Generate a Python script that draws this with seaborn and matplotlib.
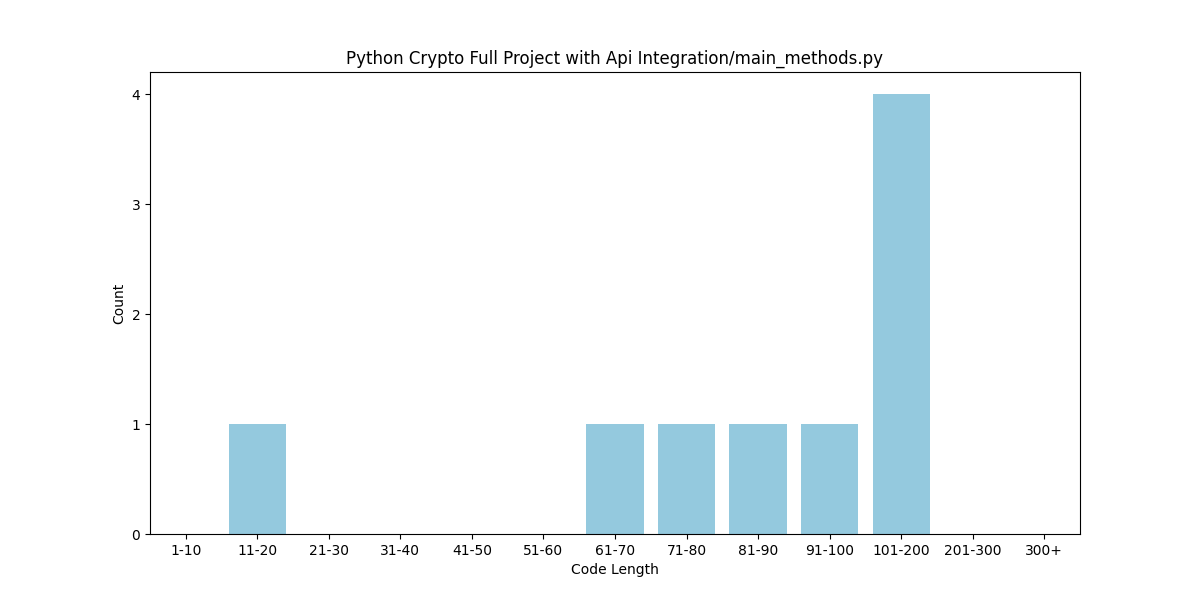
import matplotlib
matplotlib.use("Agg")
import matplotlib.pyplot as plt
import seaborn as sns
import pandas as pd

categories = ["1-10", "11-20", "21-30", "31-40", "41-50", "51-60", "61-70",
              "71-80", "81-90", "91-100", "101-200", "201-300", "300+"]
counts = [0, 1, 0, 0, 0, 0, 1, 1, 1, 1, 4, 0, 0]

df = pd.DataFrame({"Code Length": categories, "Count": counts})

fig, ax = plt.subplots(figsize=(12, 6), dpi=100)
sns.barplot(data=df, x="Code Length", y="Count", color="skyblue", ax=ax)
ax.set_title("Python Crypto Full Project with Api Integration/main_methods.py")
ax.set_xlabel("Code Length")
ax.set_ylabel("Count")
ax.set_yticks([0, 1, 2, 3, 4])
fig.savefig("out.png")
